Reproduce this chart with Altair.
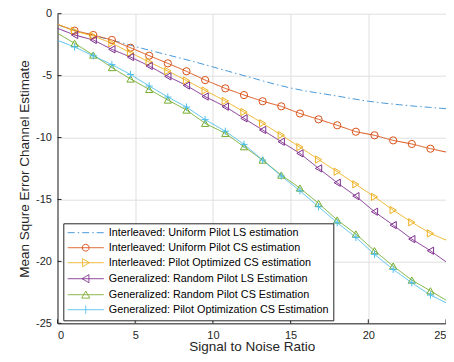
import altair as alt
import pandas as pd

series_names = [
    "Interleaved: Uniform Pilot LS estimation",
    "Interleaved: Uniform Pilot CS estimation",
    "Interleaved: Pilot Optimized CS estimation",
    "Generalized: Random Pilot LS Estimation",
    "Generalized: Random Pilot CS Estimation",
    "Generalized: Pilot Optimization CS Estimation",
]
series_colors = ["#4A9AD8", "#D95319", "#EDB120", "#7E2F8E", "#77AC30", "#4DBEEE"]

# dash-dot LS curve (no markers)
snr_ls = list(range(26))
ls_uniform = [-0.9, -1.3, -1.65, -1.98, -2.3, -2.65, -2.98, -3.3, -3.62, -3.95,
              -4.3, -4.65, -5.0, -5.35, -5.7, -6.0, -6.25, -6.45, -6.65, -6.87,
              -7.07, -7.22, -7.35, -7.47, -7.57, -7.67]

# curves with markers (first and last entries are the curve ends at 0 and 25)
snr = [0, 1.1, 2.3, 3.5, 4.7, 5.9, 7.1, 8.3, 9.5, 10.8, 12.0, 13.2, 14.4, 15.6,
       16.8, 18.0, 19.2, 20.4, 21.6, 22.8, 24.0, 25]
cs_uniform = [-0.86, -1.37, -1.72, -2.12, -2.75, -3.39, -4.01, -4.65, -5.36, -6.03,
              -6.57, -7.07, -7.48, -8.06, -8.53, -9.01, -9.53, -9.82, -10.23, -10.52,
              -10.90, -11.17]
cs_optimized = [-0.86, -1.40, -1.80, -2.39, -3.15, -3.90, -4.63, -5.40, -6.20, -7.05,
                -7.94, -8.85, -9.80, -10.77, -11.78, -12.76, -13.78, -14.79, -15.86,
                -16.84, -17.74, -18.28]
ls_random = [-1.18, -1.72, -2.12, -2.88, -3.50, -4.22, -5.06, -5.80, -6.69, -7.51,
             -8.45, -9.39, -10.34, -11.28, -12.49, -13.65, -14.73, -15.99, -17.07,
             -18.20, -19.14, -20.03]
cs_random = [-1.58, -2.39, -3.34, -4.35, -5.27, -6.11, -6.97, -7.78, -8.85, -9.66,
             -10.74, -11.82, -13.03, -14.08, -15.32, -16.66, -17.79, -19.14, -20.38,
             -21.51, -22.38, -23.13]
cs_gen_opt = [-2.15, -2.69, -3.40, -4.11, -4.91, -5.84, -6.73, -7.54, -8.55, -9.49,
              -10.55, -11.82, -13.11, -14.30, -15.59, -16.88, -18.06, -19.43, -20.65,
              -21.73, -22.72, -23.34]

x_ticks = [0, 5, 10, 15, 20, 25]
y_ticks = [-25, -20, -15, -10, -5, 0]

marker_shapes = ["circle", "triangle-right", "triangle-left", "triangle-up", "M-1,0H1M0,-1V1"]
legend_paths = [
    "M-4.5,0H4.5",
    "M-4.5,0H4.5M0.85,0A0.85,0.85,0,1,1,-0.85,0A0.85,0.85,0,1,1,0.85,0",
    "M-4.5,0H4.5M-0.8,-1L0.9,0L-0.8,1Z",
    "M-4.5,0H4.5M0.8,-1L-0.9,0L0.8,1Z",
    "M-4.5,0H4.5M0,-0.9L1,0.85L-1,0.85Z",
    "M-4.5,0H4.5M0,-1V1",
]
dashes = [[7, 3, 1.5, 3], [1, 0], [1, 0], [1, 0], [1, 0], [1, 0]]

rows = []
for x, v in zip(snr_ls, ls_uniform):
    rows.append({"series": series_names[0], "snr": x, "mse": v, "marker": False})
for name, vals in zip(series_names[1:], [cs_uniform, cs_optimized, ls_random, cs_random, cs_gen_opt]):
    for i, (x, v) in enumerate(zip(snr, vals)):
        rows.append({"series": name, "snr": x, "mse": v, "marker": 0 < i < len(snr) - 1})
df = pd.DataFrame(rows)

W, H = 388.5, 309.6
FONT = "Liberation Sans"
TXT = "#262626"

xs = alt.Scale(domain=[0, 25], nice=False, zero=False)
ys = alt.Scale(domain=[-25, 0], nice=False, zero=False)
x_enc = alt.X("snr:Q", scale=xs, axis=alt.Axis(
    values=x_ticks, title="Signal to Noise Ratio", labelExpr="'' + datum.value",
    labelPadding=6, titlePadding=-0.5))
y_enc = alt.Y("mse:Q", scale=ys, axis=alt.Axis(
    values=y_ticks, title="Mean Squre Error Channel Estimate", labelExpr="'' + datum.value",
    labelPadding=6, titlePadding=4.5))

lines = alt.Chart(df).mark_line(strokeWidth=1, clip=True).encode(
    x=x_enc, y=y_enc,
    color=alt.Color("series:N", scale=alt.Scale(domain=series_names, range=series_colors), legend=None),
    strokeDash=alt.StrokeDash("series:N", scale=alt.Scale(domain=series_names, range=dashes), legend=None),
)

markers = alt.Chart(df).transform_filter("datum.marker").mark_point(
    filled=False, size=52, strokeWidth=1, opacity=1, clip=True).encode(
    x=x_enc, y=y_enc,
    color=alt.Color("series:N", scale=alt.Scale(domain=series_names, range=series_colors), legend=None),
    shape=alt.Shape("series:N", scale=alt.Scale(domain=series_names[1:], range=marker_shapes), legend=None),
)

proxy = alt.Chart(df).mark_point(filled=False, opacity=0, strokeWidth=1).encode(
    x=x_enc, y=y_enc,
    color=alt.Color("series:N", scale=alt.Scale(domain=series_names, range=series_colors),
                    legend=alt.Legend(title=None)),
    shape=alt.Shape("series:N", scale=alt.Scale(domain=series_names, range=legend_paths),
                    legend=alt.Legend(title=None)),
    strokeDash=alt.StrokeDash("series:N", scale=alt.Scale(domain=series_names, range=dashes),
                              legend=alt.Legend(title=None)),
)

xt = alt.Chart(pd.DataFrame({"snr": x_ticks})).mark_rule(color=TXT, strokeWidth=1).encode(
    x=alt.X("snr:Q", scale=xs), y=alt.value(H), y2=alt.value(H - 4))
yt = alt.Chart(pd.DataFrame({"mse": y_ticks})).mark_rule(color=TXT, strokeWidth=1).encode(
    y=alt.Y("mse:Q", scale=ys), x=alt.value(0), x2=alt.value(4))

chart = alt.layer(lines, markers, proxy, xt, yt).resolve_scale(
    shape="independent", color="independent", strokeDash="independent"
).properties(
    width=W, height=H,
    autosize=alt.AutoSizeParams(type="none"),
    padding={"left": 49.5, "top": 5.7, "right": 0, "bottom": 30.7},
).configure_view(stroke=None).configure_axis(
    labelFont=FONT, labelFontSize=11, labelColor=TXT,
    titleFont=FONT, titleFontSize=13.5, titleColor=TXT, titleFontWeight="normal",
    domainColor=TXT, domainWidth=1, ticks=False, tickSize=0,
    grid=True, gridColor="#dfdfdf", gridWidth=1,
).configure_legend(
    orient="none", legendX=5.8, legendY=209.6, padding=4,
    strokeColor=TXT, fillColor="white", strokeWidth=1,
    symbolSize=64, symbolStrokeWidth=1, symbolOffset=13, symbolOpacity=1,
    labelOffset=17.7, labelFont=FONT, labelFontSize=10.8, labelColor="#000000",
    labelLimit=0, rowPadding=3, cornerRadius=0,
)

chart.save("out.html", embed_options={"renderer": "svg", "actions": False})
